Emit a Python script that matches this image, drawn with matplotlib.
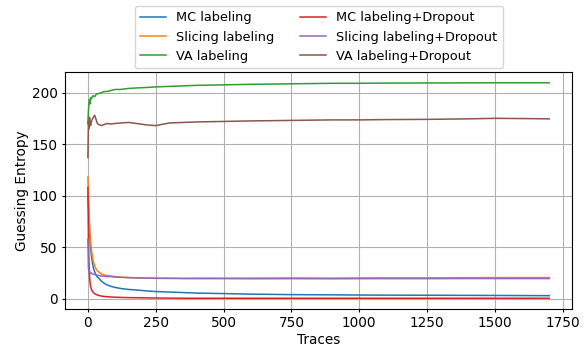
import numpy as np
import matplotlib.pyplot as plt

# values at selected trace counts
traces = [0, 2, 4, 6, 8, 10, 13, 16, 20, 25, 30, 35, 40, 50, 60, 70, 85, 100, 120, 150,
          180, 220, 250, 300, 350, 400, 500, 600, 750, 900, 1000, 1100, 1250, 1400, 1500, 1600, 1700]

mc = [100, 92, 80, 68, 58, 50, 42, 36, 30, 26, 23, 21, 20, 17, 15, 13.5, 12, 11, 10, 9,
      8.5, 7.5, 7, 6.5, 6, 5.5, 5, 4.5, 4, 3.8, 3.6, 3.5, 3.4, 3.3, 3.2, 3.1, 3.0]
slicing = [118, 100, 85, 72, 62, 55, 48, 42, 36, 32, 29, 27, 26, 24, 23, 22.5, 22, 21.5, 21, 20.5,
           20.2, 20, 20, 20, 19.8, 20, 20, 20, 20.2, 20, 20.2, 20.3, 20.3, 20.4, 20.5, 20.5, 20.5]
va = [170, 182, 190, 193, 189, 195, 194, 196, 197, 196, 198, 199, 199, 200, 201, 201, 202, 203, 203, 204,
      204.5, 205, 205.5, 206, 206.5, 207, 207.5, 208, 208.5, 209, 209, 209.2, 209.3, 209.4, 209.5, 209.5, 209.5]
mc_drop = [108, 60, 35, 22, 16, 12, 9, 7.5, 6, 5, 4.2, 3.6, 3.2, 2.6, 2.2, 2, 1.7, 1.5, 1.3, 1.1,
           1, 0.8, 0.7, 0.6, 0.5, 0.5, 0.5, 0.5, 0.5, 0.5, 0.5, 0.5, 0.5, 0.5, 0.5, 0.5, 0.5]
slicing_drop = [58, 30, 26, 27, 25, 24.5, 25, 24, 24, 23.5, 23, 23, 22.5, 22, 22, 21.5, 21.5, 21, 20.8, 20.5,
                20.3, 20, 19.8, 19.7, 19.6, 19.5, 19.5, 19.4, 19.5, 19.4, 19.5, 19.5, 19.5, 19.6, 19.6, 19.6, 19.6]
va_drop = [137, 172, 165, 176, 170, 168, 172, 174, 176, 178, 174, 170, 169, 168, 169, 170, 169.5, 170, 170.5, 171,
           170, 168.5, 168, 170.5, 171, 171.5, 172, 172.5, 173, 173.5, 173.5, 173.8, 174, 174.5, 175, 174.8, 174.5]

series = [("MC labeling", mc), ("Slicing labeling", slicing), ("VA labeling", va),
          ("MC labeling+Dropout", mc_drop), ("Slicing labeling+Dropout", slicing_drop),
          ("VA labeling+Dropout", va_drop)]

plt.rcParams['font.size'] = 9.8
plt.rcParams['xtick.major.size'] = 2.3
plt.rcParams['ytick.major.size'] = 2.3
plt.rcParams['xtick.major.pad'] = 3
plt.rcParams['ytick.major.pad'] = 3
plt.rcParams['axes.labelpad'] = 2

fig, ax = plt.subplots(figsize=(5.84, 3.47), dpi=100)
for name, vals in series:
    ax.plot(traces, vals, label=name, linewidth=1.1)

ax.set_xlabel("Traces")
ax.set_ylabel("Guessing Entropy")
ax.set_xticks(np.arange(0, 1751, 250))
ax.set_yticks([0, 50, 100, 150, 200])
ax.grid(True)
ax.legend(ncol=2, loc="lower center", bbox_to_anchor=(0.5, 1.0), borderaxespad=0.3, fontsize=9.3)

fig.subplots_adjust(left=0.111, right=0.98, top=0.7925, bottom=0.1095)
fig.savefig("out.png")
